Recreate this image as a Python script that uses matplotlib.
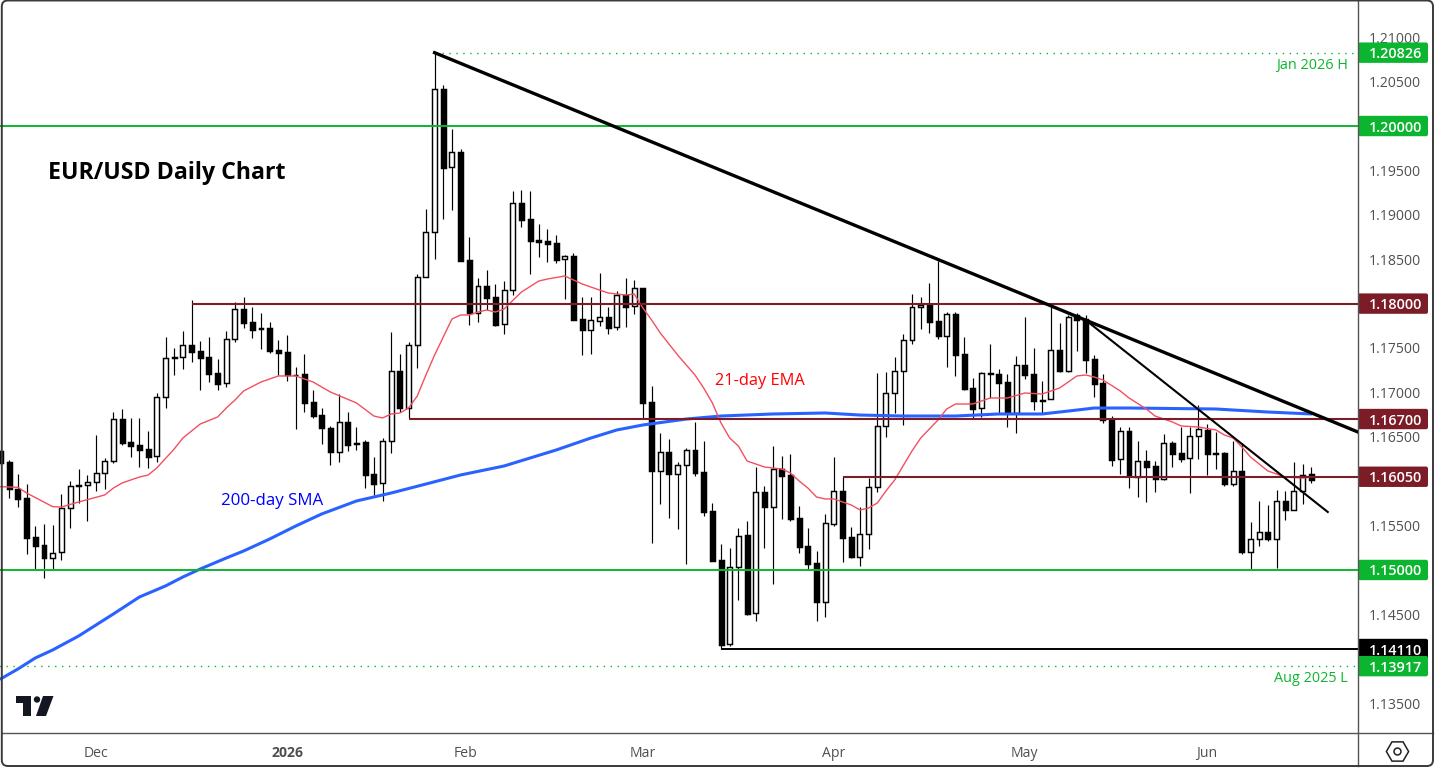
import matplotlib
matplotlib.use("Agg")
import matplotlib.pyplot as plt
from matplotlib.lines import Line2D
from matplotlib.patches import FancyBboxPatch, Polygon, Circle
from matplotlib.transforms import IdentityTransform

W, H = 1436, 769

opens = [
    1.16340, 1.16213, 1.15909, 1.15807, 1.15368, 1.15278, 1.15139, 1.15199, 1.15695, 1.15946,
    1.15954, 1.15988, 1.16089, 1.16224, 1.16697, 1.16438, 1.16404, 1.16359, 1.16280, 1.16945,
    1.17391, 1.17395, 1.17530, 1.17463, 1.17395, 1.17215, 1.17102, 1.17598, 1.17939, 1.17789,
    1.17722, 1.17722, 1.17474, 1.17455, 1.17199, 1.17204, 1.16888, 1.16742, 1.16596, 1.16332,
    1.16663, 1.16416, 1.16438, 1.16078, 1.15976, 1.16449, 1.17238, 1.16828, 1.17530, 1.18296,
    1.18803, 1.20413, 1.19535, 1.19704, 1.18488, 1.17897, 1.18195, 1.18071, 1.17767, 1.18150,
    1.19129, 1.18949, 1.18716, 1.18702, 1.18679, 1.18499, 1.18533, 1.17823, 1.17706, 1.17807,
    1.17846, 1.17733, 1.18093, 1.17970, 1.18176, 1.16888, 1.16118, 1.16325, 1.16084, 1.16179,
    1.16348, 1.16100, 1.15661, 1.15109, 1.14163, 1.15037, 1.15391, 1.14512, 1.15875, 1.15713,
    1.16134, 1.16066, 1.15582, 1.15267, 1.15075, 1.14643, 1.15521, 1.15886, 1.15368, 1.15150,
    1.15402, 1.15931, 1.16618, 1.16990, 1.17238, 1.17587, 1.17958, 1.17984, 1.17801, 1.17638,
    1.17879, 1.17429, 1.17046, 1.16821, 1.17215, 1.17204, 1.17114, 1.16771, 1.17305, 1.17204,
    1.16918, 1.16922, 1.17474, 1.17244, 1.17872, 1.17823, 1.17373, 1.17102, 1.16689, 1.16247,
    1.16562, 1.16047, 1.16224, 1.16168, 1.16021, 1.16427, 1.16314, 1.16258, 1.16506, 1.16580,
    1.16314, 1.16314, 1.15972, 1.16111, 1.15206, 1.15346, 1.15425, 1.15346, 1.15774, 1.15672,
    1.15886, 1.16078,
]
highs = [
    1.16363, 1.16239, 1.16081, 1.15968, 1.15495, 1.15518, 1.15507, 1.15856, 1.16002, 1.16137,
    1.16070, 1.16520, 1.16261, 1.16779, 1.16813, 1.16712, 1.16712, 1.16565, 1.16993, 1.17624,
    1.17497, 1.17691, 1.18040, 1.17579, 1.17624, 1.17376, 1.17691, 1.18018, 1.18074, 1.17962,
    1.17894, 1.17793, 1.17590, 1.17646, 1.17286, 1.17432, 1.17027, 1.16821, 1.16618, 1.16979,
    1.16779, 1.16610, 1.16460, 1.16272, 1.16483, 1.17680, 1.17432, 1.17568, 1.18333, 1.19065,
    1.20826, 1.20462, 1.19966, 1.19741, 1.18750, 1.18288, 1.18378, 1.18221, 1.18254, 1.19268,
    1.19279, 1.19268, 1.18896, 1.18840, 1.18772, 1.18547, 1.18570, 1.18074, 1.18074, 1.18345,
    1.17962, 1.18138, 1.18288, 1.18266, 1.18176, 1.17072, 1.16539, 1.16475, 1.16213, 1.16370,
    1.16663, 1.16449, 1.15751, 1.15289, 1.15244, 1.15473, 1.15548, 1.16160, 1.15946, 1.16396,
    1.16284, 1.16306, 1.15717, 1.15473, 1.15214, 1.15631, 1.16272, 1.16051, 1.15484, 1.15706,
    1.16036, 1.17218, 1.17230, 1.17399, 1.17658, 1.18108, 1.18074, 1.18232, 1.18480, 1.17902,
    1.17902, 1.17624, 1.17162, 1.17230, 1.17545, 1.17263, 1.17207, 1.17410, 1.17849, 1.17500,
    1.17128, 1.17962, 1.17781, 1.17872, 1.17894, 1.17872, 1.17418, 1.17207, 1.16731, 1.16610,
    1.16610, 1.16453, 1.16351, 1.16224, 1.16531, 1.16453, 1.16610, 1.16610, 1.16858, 1.16641,
    1.16554, 1.16325, 1.16453, 1.16427, 1.15541, 1.15777, 1.15732, 1.15897, 1.15890, 1.16216,
    1.16194, 1.16160,
]
lows = [
    1.16171, 1.15814, 1.15713, 1.15180, 1.15015, 1.14913, 1.15015, 1.15113, 1.15476, 1.15754,
    1.15555, 1.15893, 1.15912, 1.16208, 1.16408, 1.16276, 1.16163, 1.16152, 1.16216, 1.16828,
    1.17196, 1.17267, 1.17346, 1.17027, 1.17117, 1.17030, 1.17064, 1.17571, 1.17729, 1.17616,
    1.17489, 1.17440, 1.17196, 1.17132, 1.16591, 1.16776, 1.16708, 1.16422, 1.16186, 1.16220,
    1.16343, 1.16355, 1.15927, 1.15848, 1.15780, 1.16321, 1.16779, 1.16712, 1.17278, 1.18296,
    1.18506, 1.18956, 1.19057, 1.18480, 1.17759, 1.17793, 1.17928, 1.17751, 1.17658, 1.18097,
    1.18866, 1.18333, 1.18525, 1.18468, 1.18457, 1.18052, 1.17815, 1.17424, 1.17436, 1.17748,
    1.17658, 1.17703, 1.17740, 1.17883, 1.16708, 1.15304, 1.15743, 1.15586, 1.15462, 1.15068,
    1.16062, 1.15611, 1.15101, 1.14110, 1.14148, 1.14662, 1.14497, 1.14429, 1.15248, 1.14842,
    1.15574, 1.15555, 1.15195, 1.15015, 1.14426, 1.14474, 1.15499, 1.15090, 1.15139, 1.15048,
    1.15240, 1.15878, 1.16501, 1.16768, 1.16636, 1.17548, 1.17714, 1.17669, 1.17605, 1.17286,
    1.17185, 1.17027, 1.16715, 1.16726, 1.16934, 1.16765, 1.16614, 1.16546, 1.17151, 1.16802,
    1.16765, 1.16920, 1.17230, 1.17235, 1.17470, 1.17222, 1.16952, 1.16659, 1.16175, 1.16084,
    1.15927, 1.15825, 1.15769, 1.15882, 1.16013, 1.16163, 1.16220, 1.15864, 1.16253, 1.16073,
    1.16141, 1.15949, 1.15949, 1.15184, 1.15015, 1.15274, 1.15330, 1.15026, 1.15566, 1.15672,
    1.15747, 1.15983,
]
closes = [
    1.16205, 1.15909, 1.15803, 1.15364, 1.15274, 1.15139, 1.15195, 1.15695, 1.15943, 1.15952,
    1.15988, 1.16089, 1.16224, 1.16697, 1.16434, 1.16400, 1.16355, 1.16276, 1.16945, 1.17384,
    1.17395, 1.17530, 1.17458, 1.17391, 1.17211, 1.17098, 1.17598, 1.17936, 1.17785, 1.17706,
    1.17717, 1.17470, 1.17447, 1.17199, 1.17196, 1.16884, 1.16738, 1.16596, 1.16332, 1.16663,
    1.16411, 1.16434, 1.16073, 1.15972, 1.16449, 1.17238, 1.16828, 1.17530, 1.18296, 1.18803,
    1.20413, 1.19530, 1.19704, 1.18483, 1.17891, 1.18195, 1.18066, 1.17762, 1.18150, 1.19129,
    1.18945, 1.18708, 1.18697, 1.18674, 1.18494, 1.18533, 1.17819, 1.17706, 1.17812, 1.17846,
    1.17729, 1.18093, 1.17965, 1.18172, 1.16884, 1.16118, 1.16325, 1.16084, 1.16179, 1.16348,
    1.16096, 1.15657, 1.15105, 1.14159, 1.15037, 1.15386, 1.14508, 1.15875, 1.15713, 1.16134,
    1.16062, 1.15574, 1.15262, 1.15071, 1.14643, 1.15526, 1.15886, 1.15364, 1.15150, 1.15402,
    1.15931, 1.16618, 1.16990, 1.17238, 1.17587, 1.17958, 1.17981, 1.17796, 1.17638, 1.17879,
    1.17424, 1.17042, 1.16816, 1.17215, 1.17204, 1.17109, 1.16771, 1.17305, 1.17199, 1.16906,
    1.16906, 1.17474, 1.17244, 1.17846, 1.17815, 1.17365, 1.17098, 1.16686, 1.16242, 1.16562,
    1.16055, 1.16224, 1.16163, 1.16021, 1.16427, 1.16310, 1.16253, 1.16506, 1.16584, 1.16310,
    1.16310, 1.15972, 1.16111, 1.15206, 1.15346, 1.15425, 1.15346, 1.15774, 1.15672, 1.15886,
    1.16073, 1.16017,
]

# moving averages, read at selected bars
ema_idx = [0, 2, 3, 6, 7, 9, 12, 13, 14, 16, 17, 18, 20, 21, 23, 25, 26, 27, 28, 30, 32, 34, 36, 38,
           41, 43, 44, 45, 46, 47, 48, 49, 50, 52, 53, 54, 55, 56, 57, 58, 60, 62, 63, 65, 67, 70,
           72, 73, 74, 75, 76, 78, 80, 81, 82, 83, 84, 85, 86, 88, 90, 91, 92, 93, 94, 95, 96, 98,
           99, 100, 101, 102, 103, 105, 106, 107, 108, 109, 110, 112, 114, 116, 118, 120, 122, 123,
           124, 125, 126, 127, 129, 130, 132, 133, 135, 136, 138, 140, 141, 142, 143, 144, 146, 148,
           150, 151]
ema_vals = [1.15938, 1.15931, 1.15867, 1.15713, 1.15709, 1.15766, 1.15845, 1.15923, 1.15980, 1.16047,
            1.16070, 1.16149, 1.16363, 1.16486, 1.16644, 1.16723, 1.16824, 1.16914, 1.17016, 1.17117,
            1.17185, 1.17185, 1.17117, 1.17004, 1.16881, 1.16734, 1.16712, 1.16757, 1.16768, 1.16824,
            1.16959, 1.17196, 1.17421, 1.17827, 1.17872, 1.17872, 1.17905, 1.17928, 1.17905, 1.17939,
            1.18130, 1.18254, 1.18277, 1.18311, 1.18221, 1.18119, 1.18097, 1.18108, 1.17950, 1.17815,
            1.17669, 1.17421, 1.17196, 1.17049, 1.16881, 1.16655, 1.16486, 1.16396, 1.16227, 1.16160,
            1.16137, 1.16092, 1.16002, 1.15923, 1.15822, 1.15800, 1.15800, 1.15732, 1.15676, 1.15698,
            1.15754, 1.15890, 1.16013, 1.16340, 1.16486, 1.16588, 1.16689, 1.16813, 1.16869, 1.16869,
            1.16937, 1.16937, 1.16993, 1.16982, 1.17049, 1.17117, 1.17185, 1.17196, 1.17173, 1.17140,
            1.17016, 1.16937, 1.16813, 1.16734, 1.16667, 1.16622, 1.16610, 1.16577, 1.16520, 1.16486,
            1.16385, 1.16272, 1.16115, 1.16047, 1.16036, 1.16047]

sma_idx = [0, 2, 4, 6, 9, 11, 13, 16, 19, 21, 23, 26, 28, 31, 34, 37, 41, 45, 49, 53, 58, 61, 64,
           68, 71, 74, 79, 83, 89, 95, 99, 104, 110, 115, 120, 123, 126, 130, 140, 146, 151]
sma_vals = [1.13773, 1.13885, 1.14009, 1.14099, 1.14257, 1.14381, 1.14505, 1.14696, 1.14820, 1.14921,
            1.15011, 1.15135, 1.15214, 1.15349, 1.15495, 1.15631, 1.15777, 1.15867, 1.15968, 1.16070,
            1.16171, 1.16261, 1.16351, 1.16486, 1.16577, 1.16633, 1.16700, 1.16734, 1.16757, 1.16768,
            1.16745, 1.16734, 1.16734, 1.16757, 1.16757, 1.16790, 1.16824, 1.16824, 1.16813, 1.16779,
            1.16757]

price_ticks = [1.135, 1.14, 1.145, 1.15, 1.155, 1.16, 1.165, 1.17, 1.175, 1.18, 1.185, 1.19, 1.195,
               1.20, 1.205, 1.21]
month_pos = [11, 33, 53.6, 74, 96, 118, 139]
month_labels = ["Dec", "2026", "Feb", "Mar", "Apr", "May", "Jun"]

GREEN = "#0cb52f"
MAROON = "#7b1c26"
BLACK = "#000000"
GREY = "#4f4f4f"

plt.rcParams["font.family"] = "Open Sans"

fig = plt.figure(figsize=(W / 100, H / 100), dpi=100, facecolor="white")
ax = fig.add_axes([0, (H - 733) / H, 1357.5 / W, 732 / H])
ax.set_xlim(-0.6 / 8.68, (1357.5 - 0.6) / 8.68)
ax.set_ylim(1.13164, 1.21408)
for s in ax.spines.values():
    s.set_visible(False)

# candles: wicks first, bodies on top
n = len(opens)
xs = list(range(n))
ax.vlines(xs, lows, highs, color="black", lw=0.85, zorder=2)
for i in xs:
    up = closes[i] >= opens[i]
    ax.bar(i, abs(closes[i] - opens[i]), bottom=min(opens[i], closes[i]), width=0.575,
           facecolor="white" if up else "black", edgecolor="black", lw=1.05, zorder=3)

# moving averages
ax.plot(sma_idx, sma_vals, color="#2962ff", lw=2.2, zorder=4, solid_capstyle="round")
ax.plot(ema_idx, ema_vals, color="#f2505f", lw=1.0, zorder=5)

# support and resistance levels
right = ax.get_xlim()[1]
ax.hlines([1.20, 1.15], -1, right, color=GREEN, lw=1.4, zorder=6)
ax.hlines(1.18, 22, right, color=MAROON, lw=1.5, zorder=6)
ax.hlines(1.167, 47, right, color=MAROON, lw=1.5, zorder=6)
ax.hlines(1.1605, 97, right, color=MAROON, lw=1.5, zorder=6)
ax.hlines(1.1411, 83, right, color=BLACK, lw=1.4, zorder=6)
ax.plot([50, right], [1.20826, 1.20826], color=GREEN, lw=1.0, ls=(0, (1, 4)), zorder=6)
ax.plot([-1, right], [1.13917, 1.13917], color=GREEN, lw=1.0, ls=(0, (1, 4)), zorder=6)

# trend lines
ax.plot([50, 156.3], [1.20826, 1.16557], color=BLACK, lw=2.4, zorder=7)
ax.plot([125, 152.9], [1.17815, 1.15653], color=BLACK, lw=1.5, zorder=7)

# axes text
ax.yaxis.tick_right()
ax.set_yticks(price_ticks)
ax.set_yticklabels([f"{p:.5f}" for p in price_ticks])
ax.tick_params(axis="y", length=0, pad=8, labelsize=10.1, labelcolor=GREY)
ax.set_xticks(month_pos)
ax.set_xticklabels(month_labels)
ax.tick_params(axis="x", length=0, pad=9.5, labelsize=10.1, labelcolor=GREY)
ax.get_xticklabels()[1].set_fontweight("bold")


def px_text(x, y, s, **kw):
    fig.text(x / W, 1 - y / H, s, va="center", **kw)


px_text(48, 173, "EUR/USD Daily Chart", fontsize=16.7, fontweight="bold", color="black")
px_text(715, 381, "21-day EMA", fontsize=11.8, color="#ff0000")
px_text(221, 501, "200-day SMA", fontsize=12.2, color="#0000ff")
px_text(1348, 66, "Jan 2026 H", fontsize=10.4, color=GREEN, ha="right")
px_text(1348, 679, "Aug 2025 L", fontsize=10.4, color=GREEN, ha="right")


# price tags on the right axis
def tag(price, color):
    y = ax.transData.transform((0, price))[1]
    fig.add_artist(FancyBboxPatch((1358, y - 10.2), 70, 20.4, boxstyle="round,pad=0,rounding_size=2",
                                  fc=color, ec="none", transform=IdentityTransform(), zorder=2))
    fig.text(1396 / W, y / H, f"{price:.5f}", color="white", fontsize=10.4, fontweight="semibold",
             ha="center", va="center_baseline", zorder=3)


for price, color in [(1.20826, GREEN), (1.20, GREEN), (1.18, MAROON), (1.167, MAROON),
                     (1.1605, MAROON), (1.15, GREEN), (1.1411, BLACK), (1.13917, GREEN)]:
    tag(price, color)

# outer frame and pane separators
fig.add_artist(Line2D([1357.5 / W, 1357.5 / W], [(H - 766) / H, 1], color="#555555", lw=1.0, zorder=4))
fig.add_artist(Line2D([2 / W, 1433 / W], [(H - 733) / H, (H - 733) / H], color="#555555", lw=1.0, zorder=4))
fig.add_artist(FancyBboxPatch((1.8, H - 766), 1431.2, 765.5, boxstyle="round,pad=0,rounding_size=6",
                              fc="none", ec="#3a3a3a", lw=1.4, transform=IdentityTransform(), zorder=5))

# settings icon and chart logo
icon_ax = fig.add_axes([0, 0, 1, 1], facecolor="none", zorder=6)
icon_ax.set_xlim(0, W)
icon_ax.set_ylim(H, 0)
icon_ax.axis("off")
icon_ax.plot([1396.5], [751], marker="H", ms=16, mfc="white", mec="#222222", mew=1.1)
icon_ax.plot([1396.5], [751], marker="o", ms=5, mfc="white", mec="#222222", mew=1.1)
icon_ax.add_patch(Polygon([(16, 696), (31, 696), (31, 716), (23, 716), (23, 703), (16, 703)], fc="#131722"))
icon_ax.add_patch(Circle((37, 699.5), 3.2, fc="#131722"))
icon_ax.add_patch(Polygon([(43, 696), (53.5, 696), (46, 716), (36, 716)], fc="#131722"))

fig.savefig("out.png", dpi=100)
